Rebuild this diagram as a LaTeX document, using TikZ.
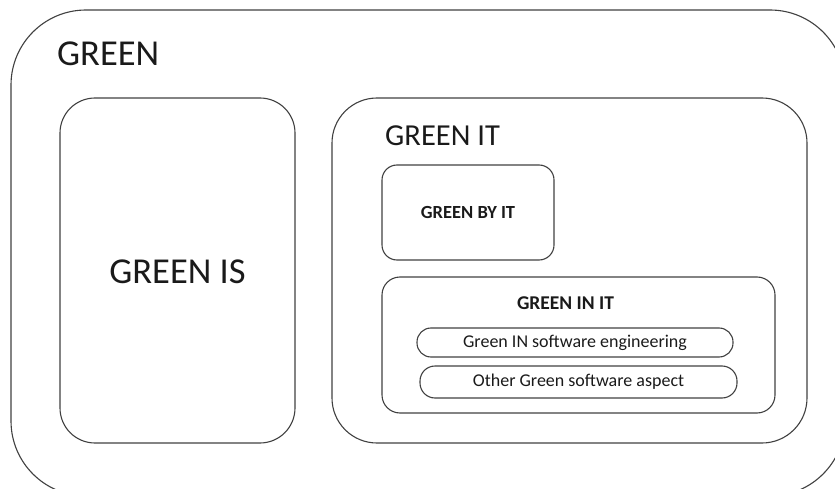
\documentclass[tikz,border=0pt]{standalone}
\usepackage{fontspec}
\setmainfont{Carlito}
\definecolor{linegray}{HTML}{404040}
\definecolor{txt}{HTML}{1A1A1A}
\begin{document}
\begin{tikzpicture}[x=1pt,y=-1pt,
  box/.style={draw=linegray, line width=1.1pt, rounded corners=#1, inner sep=0pt, text=txt},
  lbl/.style={inner sep=0pt, text=txt}]
\useasboundingbox (0,0) rectangle (835,489);
\clip (0,0) rectangle (835,489);
\node[box=75pt, minimum width=834pt, minimum height=486pt] (green) at (428,253) {};
\node[lbl, anchor=base west, font=\fontsize{36.5}{40}\selectfont] (greenlbl) at (57,66) {GREEN};
\node[box=35pt, minimum width=235pt, minimum height=345pt] (greenis) at (177.5,270.5) {};
\node[lbl, font=\fontsize{36.5}{40}\selectfont] (greenislbl) at (177.5,272) {GREEN IS};
\node[box=45pt, minimum width=475pt, minimum height=345pt] (greenit) at (569.5,270.5) {};
\node[lbl, anchor=base west, font=\fontsize{30.5}{34}\selectfont] (greenitlbl) at (385,146) {GREEN IT};
\node[box=15pt, minimum width=172pt, minimum height=95pt, font=\bfseries\fontsize{18.5}{22}\selectfont] (byit) at (468,212.5) {GREEN BY IT};
\node[box=18pt, minimum width=393pt, minimum height=136pt] (init) at (578.5,345) {};
\node[lbl, font=\bfseries\fontsize{19.5}{22}\selectfont] (initlbl) at (565.5,303.5) {GREEN IN IT};
\node[box=14pt, minimum width=316pt, minimum height=29pt, font=\fontsize{18}{21}\selectfont] (pillone) at (575,342.5) {Green IN software engineering};
\node[box=15pt, minimum width=317pt, minimum height=32pt, font=\fontsize{18}{21}\selectfont] (pilltwo) at (578.5,382) {Other Green software aspect};
\end{tikzpicture}
\end{document}
